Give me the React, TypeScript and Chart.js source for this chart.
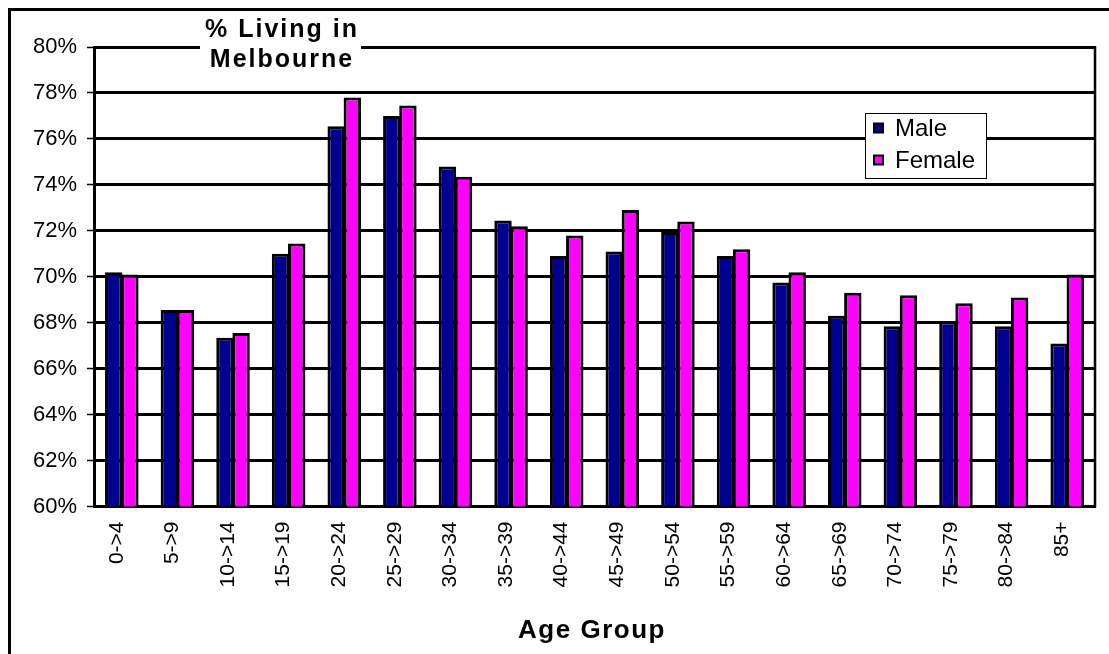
import React, { useEffect, useRef } from "react";
import { Chart, registerables } from "chart.js";

Chart.register(...registerables);

const categories = [
  "0->4", "5->9", "10->14", "15->19", "20->24", "25->29", "30->34", "35->39", "40->44",
  "45->49", "50->54", "55->59", "60->64", "65->69", "70->74", "75->79", "80->84", "85+",
];
const maleValues = [
  70.2, 68.55, 67.35, 71.0, 76.55, 77.0, 74.8, 72.45, 70.9,
  71.1, 71.95, 70.9, 69.75, 68.3, 67.85, 68.05, 67.85, 67.1,
];
const femaleValues = [
  70.1, 68.55, 67.55, 71.45, 77.8, 77.45, 74.35, 72.2, 71.8,
  72.9, 72.4, 71.2, 70.2, 69.3, 69.2, 68.85, 69.1, 70.1,
];
const seriesNames = ["Male", "Female"];
const seriesColors = ["#000090", "#FF00FF"];
const yMin = 60;
const yMax = 80;
const yStep = 2;
const titleLines = ["% Living in", "Melbourne"];
const xAxisTitle = "Age Group";

const FONT = "'Liberation Sans', Arial, sans-serif";
const W = 1101;
const H = 646;

const decorPlugin = {
  id: "decor",
  afterDraw(chart: any) {
    const ctx: CanvasRenderingContext2D = chart.ctx;
    const ca = chart.chartArea;
    ctx.save();
    // right frame of plot area
    ctx.strokeStyle = "#000";
    ctx.lineWidth = 2.5;
    ctx.beginPath();
    ctx.moveTo(ca.right, ca.top - 1);
    ctx.lineTo(ca.right, ca.bottom + 1);
    ctx.stroke();

    // outer frame (left & top visible)
    ctx.lineWidth = 3;
    ctx.beginPath();
    ctx.moveTo(1.5, H);
    ctx.lineTo(1.5, 1.5);
    ctx.lineTo(W, 1.5);
    ctx.stroke();

    // title box
    ctx.fillStyle = "#fff";
    ctx.fillRect(192, 4, 161, 66);
    ctx.fillStyle = "#000";
    ctx.font = `bold 25px ${FONT}`;
    (ctx as any).letterSpacing = "2px";
    ctx.textAlign = "center";
    ctx.textBaseline = "alphabetic";
    ctx.fillText(titleLines[0], 274, 29);
    ctx.fillText(titleLines[1], 274, 59);

    // x axis title
    ctx.font = `bold 26px ${FONT}`;
    (ctx as any).letterSpacing = "1.5px";
    ctx.fillText(xAxisTitle, 584, 630);
    (ctx as any).letterSpacing = "0px";

    // legend
    const lx = 857, ly = 105, lw = 121, lh = 65;
    ctx.fillStyle = "#fff";
    ctx.fillRect(lx, ly, lw, lh);
    ctx.strokeStyle = "#000";
    ctx.lineWidth = 1;
    ctx.strokeRect(lx + 0.5, ly + 0.5, lw, lh);
    ctx.font = `24px ${FONT}`;
    ctx.textAlign = "left";
    const rows = [120, 152];
    chart.data.datasets.forEach((ds: any, i: number) => {
      const cy = rows[i];
      ctx.fillStyle = "#000";
      ctx.fillRect(865, cy - 5.5, 11, 11);
      ctx.fillStyle = ds.backgroundColor;
      ctx.fillRect(867, cy - 3.5, 7, 7);
      ctx.fillStyle = "#000";
      ctx.fillText(ds.label, 887, cy + 7.5);
    });
    ctx.restore();
  },
};

export default function App() {
  const ref = useRef<HTMLCanvasElement | null>(null);
  useEffect(() => {
    if (!ref.current) return;
    const chart = new Chart(ref.current, {
      type: "bar",
      data: {
        labels: categories,
        datasets: [
          {
            label: seriesNames[0],
            data: maleValues,
            backgroundColor: seriesColors[0],
            borderColor: "#000",
            borderWidth: 3,
            borderSkipped: false,
            barPercentage: 1.08,
            categoryPercentage: 0.58,
          },
          {
            label: seriesNames[1],
            data: femaleValues,
            backgroundColor: seriesColors[1],
            borderColor: "#000",
            borderWidth: 3,
            borderSkipped: false,
            barPercentage: 1.08,
            categoryPercentage: 0.58,
          },
        ],
      },
      options: {
        responsive: false,
        animation: false,
        devicePixelRatio: 1,
        layout: { padding: { top: 39, right: 14, left: 0, bottom: 0 } },
        plugins: {
          legend: { display: false },
          tooltip: { enabled: false },
          title: { display: false },
        },
        scales: {
          x: {
            type: "category",
            afterFit: (s: any) => {
              s.height = 147.5;
            },
            grid: { display: false, drawTicks: false },
            border: { display: true, color: "#000", width: 3 },
            ticks: {
              autoSkip: false,
              minRotation: 90,
              maxRotation: 90,
              padding: 15,
              labelOffset: -5,
              color: "#000",
              font: { family: FONT, size: 21 },
            },
          },
          y: {
            min: yMin,
            max: yMax,
            afterFit: (s: any) => {
              s.width = 86;
            },
            grid: {
              color: "#000",
              lineWidth: 3,
              drawTicks: true,
              tickLength: 7,
              tickWidth: 1.5,
              tickColor: "#000",
            },
            border: { display: true, color: "#000", width: 3 },
            ticks: {
              stepSize: yStep,
              padding: 10,
              color: "#000",
              font: { family: FONT, size: 22 },
              callback: (v: any) => `${v}%`,
            },
          },
        },
      },
      plugins: [decorPlugin],
    });
    return () => chart.destroy();
  }, []);

  return (
    <div style={{ position: "fixed", left: 8, top: 8, width: W, height: H }}>
      <canvas ref={ref} width={W} height={H} style={{ width: W, height: H, display: "block" }} />
    </div>
  );
}
